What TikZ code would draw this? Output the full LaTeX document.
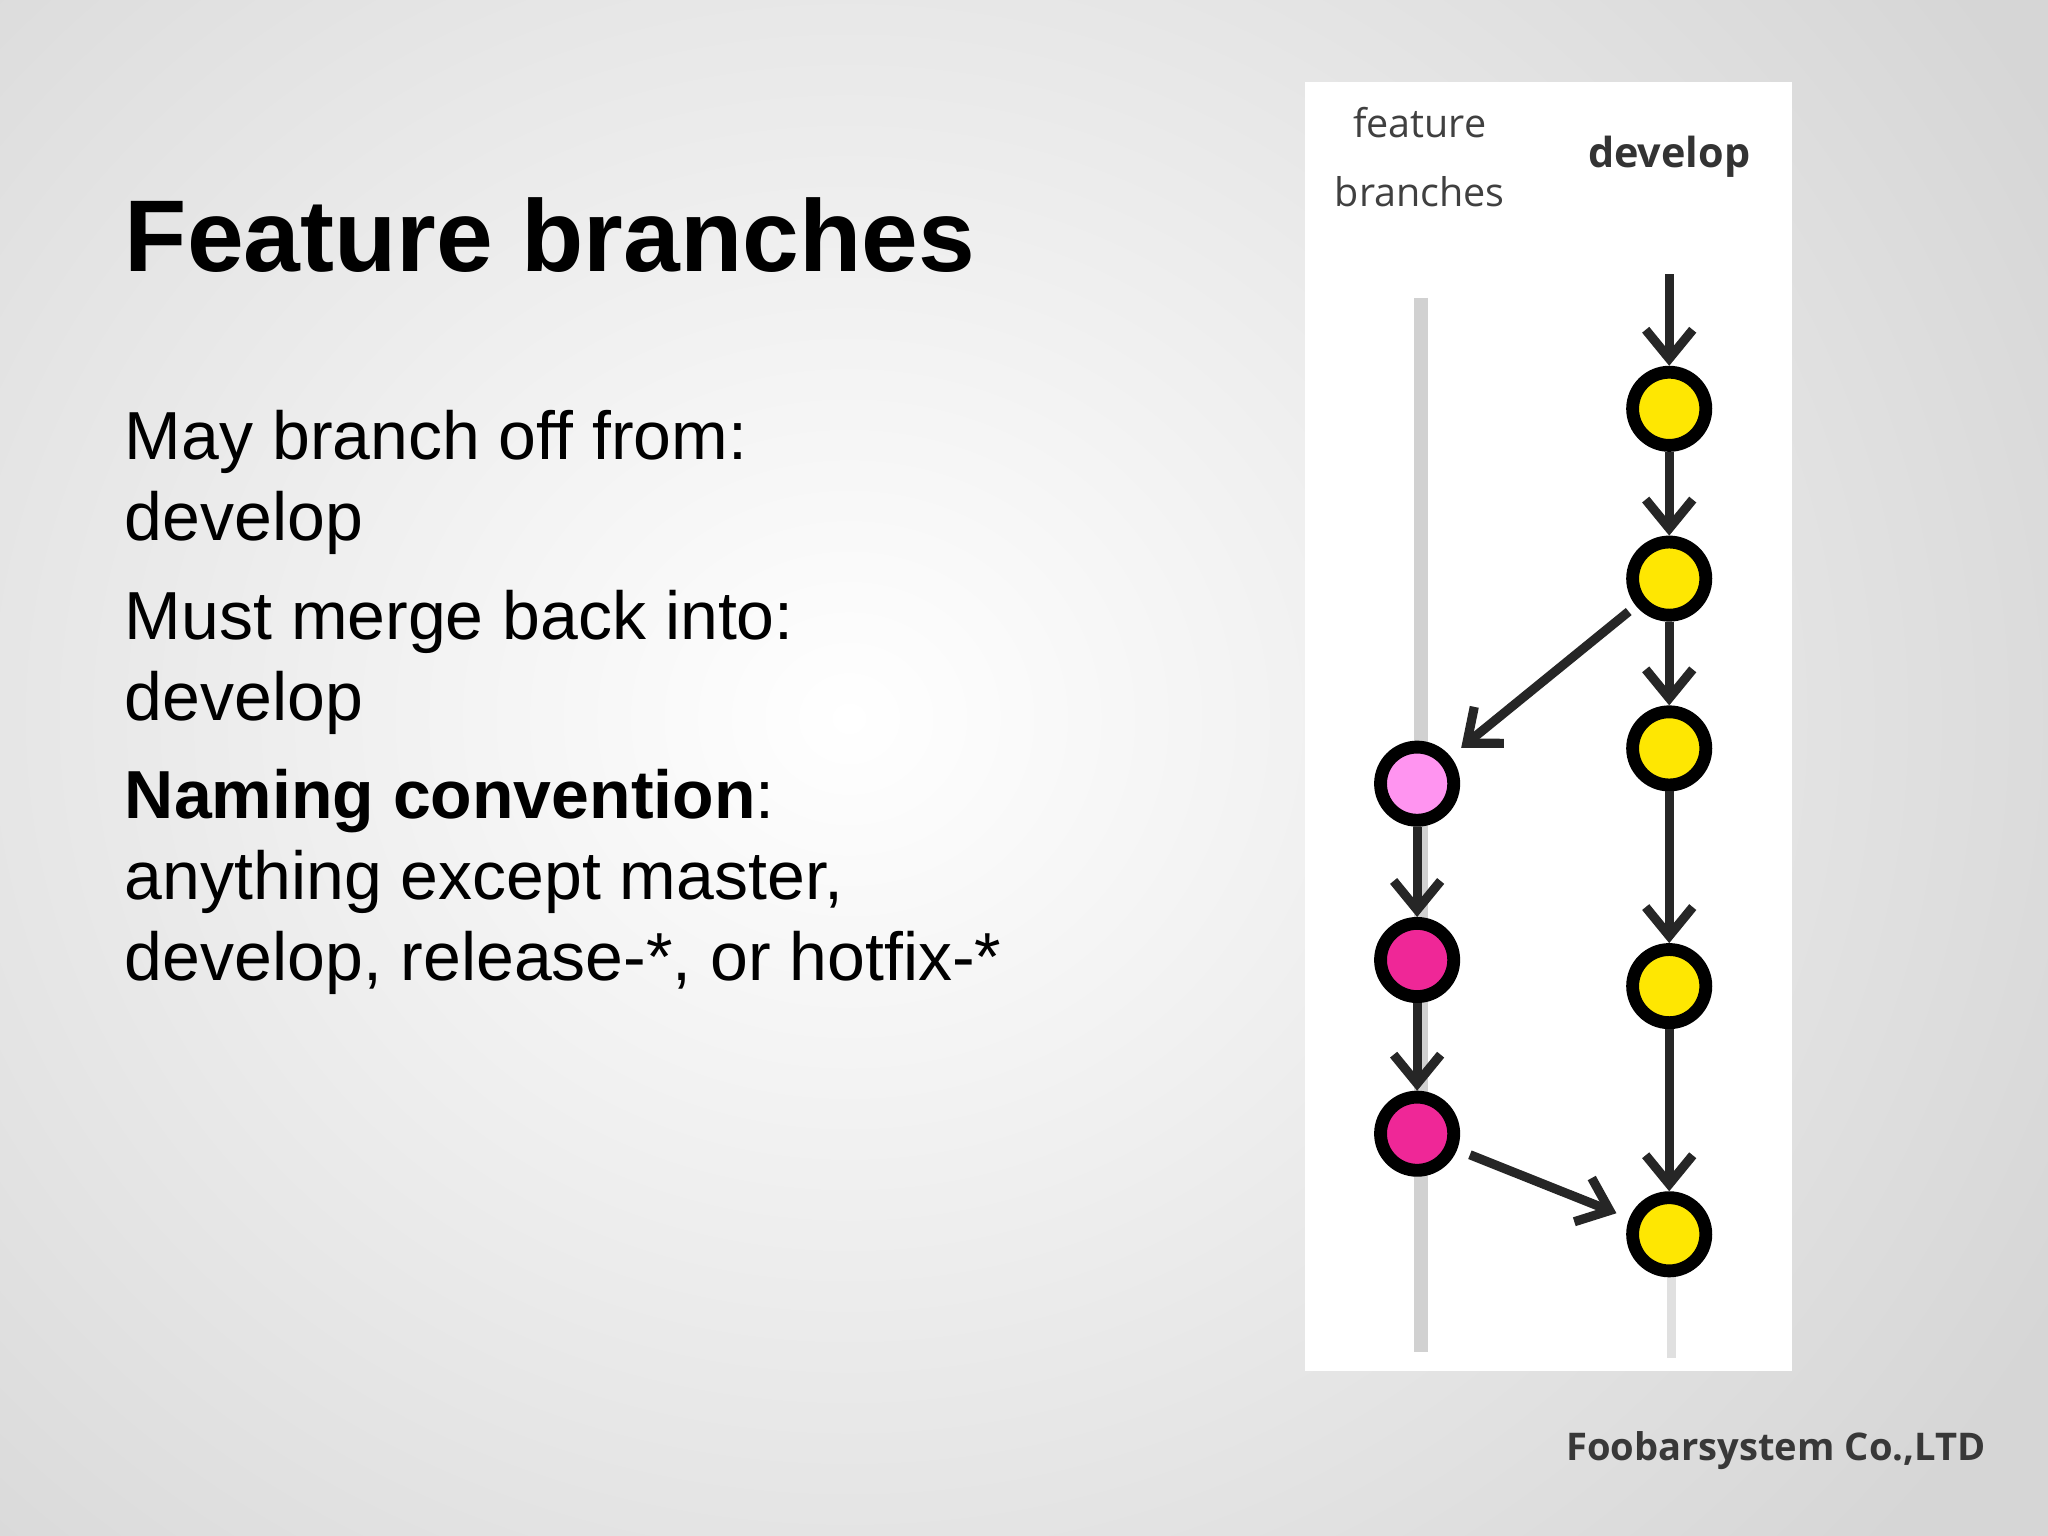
\documentclass[tikz,border=0pt]{standalone}
\usepackage{fontspec}
\setmainfont{Liberation Sans}
\newfontfamily\osans{Open Sans}
\usetikzlibrary{arrows.meta}
\begin{document}
\begin{tikzpicture}[x=0.01cm,y=-0.01cm,
  commit/.style={circle,draw=black,line width=2.8pt,minimum size=0.56cm,inner sep=0pt},
  yel/.style={commit,fill=yellow!90!orange},
  pnk/.style={commit,fill=magenta!80!pink},
  flow/.style={-{Straight Barb[length=0.22cm,width=0.36cm,line width=2pt]},line width=2pt,black!85},
  body/.style={anchor=base west,font=\fontsize{14.8pt}{18pt}\selectfont,inner sep=0pt}]
\useasboundingbox (0,0) rectangle (1568,1176);
\shade[inner color=white,outer color=black!16] (-400,-400) rectangle (1700,1500);
\fill[white] (999,63) rectangle (1372,1050);
% title and text
\node[anchor=base west,inner sep=0pt,font=\bfseries\fontsize{22.2pt}{26pt}\selectfont] (title) at (95,208) {Feature branches};
\node[body] (t1) at (95,352) {May branch off from:};
\node[body] (t2) at (95,414) {develop};
\node[body] (t3) at (95,490) {Must merge back into:};
\node[body] (t4) at (95,552) {develop};
\node[body] (t5) at (95,627) {\textbf{Naming convention}:};
\node[body] (t6) at (95,689) {anything except master,};
\node[body] (t7) at (95,751) {develop, release-*, or hotfix-*};
\node[anchor=base east,inner sep=0pt,font=\osans\bfseries\fontsize{8.3pt}{10pt}\selectfont,text=black!78] (foot) at (1521,1118) {Foobarsystem Co.,LTD};
% labels
\node[font=\osans\fontsize{8.6pt}{10pt}\selectfont,text=black!75] (fl1) at (1087,94) {feature};
\node[font=\osans\fontsize{8.6pt}{10pt}\selectfont,text=black!75] (fl2) at (1087,147) {branches};
\node[font=\osans\bfseries\fontsize{9pt}{10pt}\selectfont,text=black!80] (dl) at (1278,120) {develop};
% lanes
\draw[line width=3pt,black!18] (1088,228) -- (1088,1035);
\draw[line width=2pt,black!12] (1280,960) -- (1280,1040);
% commits
\coordinate (top) at (1278,210);
\node[yel] (d1) at (1278,313) {};
\node[yel] (d2) at (1278,443) {};
\node[yel] (d3) at (1278,573) {};
\node[yel] (d4) at (1278,755) {};
\node[yel] (d5) at (1278,945) {};
\node[commit,fill=pink!40!magenta!60] (f1) at (1085,600) {};
\node[pnk] (f2) at (1085,735) {};
\node[pnk] (f3) at (1085,868) {};
\draw[flow] (top) -- (d1);
\draw[flow] (d1) -- (d2);
\draw[flow] (d2) -- (d3);
\draw[flow] (d3) -- (d4);
\draw[flow] (d4) -- (d5);
\draw[flow] (f1) -- (f2);
\draw[flow] (f2) -- (f3);
\draw[flow,shorten <=2pt,shorten >=3pt] (d2) -- (f1);
\draw[flow,shorten <=3pt,shorten >=3pt] (f3) -- (d5);
\end{tikzpicture}
\end{document}
